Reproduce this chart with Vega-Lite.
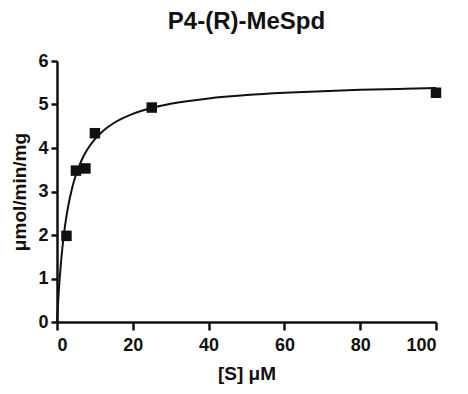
{
  "$schema": "https://vega.github.io/schema/vega-lite/v6.json",
  "width": 379,
  "height": 261,
  "autosize": {"type": "none"},
  "padding": {"left": 57, "top": 61, "right": 32, "bottom": 72},
  "background": "white",
  "title": {
    "text": "P4-(R)-MeSpd",
    "font": "Liberation Sans",
    "fontSize": 24,
    "fontWeight": "bold",
    "color": "#111111",
    "anchor": "middle",
    "offset": 18
  },
  "config": {
    "view": {"stroke": null},
    "axis": {
      "domainColor": "#111111",
      "domainWidth": 2.5,
      "tickColor": "#111111",
      "tickWidth": 2.5,
      "grid": false,
      "labelFont": "Liberation Sans",
      "labelFontWeight": "bold",
      "labelFontSize": 18,
      "labelColor": "#111111",
      "titleFont": "Liberation Sans",
      "titleFontWeight": "bold",
      "titleFontSize": 19,
      "titleColor": "#111111"
    }
  },
  "datasets": {
    "points": [
      {"s": 2.5, "v": 1.98},
      {"s": 5, "v": 3.48},
      {"s": 7.5, "v": 3.53},
      {"s": 10, "v": 4.34},
      {"s": 25, "v": 4.93},
      {"s": 100, "v": 5.27}
    ],
    "curve": [
      {"s": 0, "v": 0},
      {"s": 0.5, "v": 0.75},
      {"s": 1, "v": 1.32},
      {"s": 1.5, "v": 1.77},
      {"s": 2, "v": 2.135},
      {"s": 2.5, "v": 2.434},
      {"s": 3, "v": 2.685},
      {"s": 4, "v": 3.083},
      {"s": 5, "v": 3.384},
      {"s": 6, "v": 3.62},
      {"s": 7, "v": 3.809},
      {"s": 8, "v": 3.964},
      {"s": 10, "v": 4.205},
      {"s": 12, "v": 4.382},
      {"s": 15, "v": 4.574},
      {"s": 20, "v": 4.784},
      {"s": 25, "v": 4.92},
      {"s": 30, "v": 5.015},
      {"s": 40, "v": 5.139},
      {"s": 50, "v": 5.216},
      {"s": 60, "v": 5.269},
      {"s": 70, "v": 5.307},
      {"s": 80, "v": 5.337},
      {"s": 90, "v": 5.359},
      {"s": 100, "v": 5.378}
    ]
  },
  "layer": [
    {
      "data": {"name": "curve"},
      "mark": {"type": "line", "color": "#111111", "strokeWidth": 2, "interpolate": "monotone", "clip": false},
      "encoding": {
        "x": {
          "field": "s", "type": "quantitative",
          "scale": {"domain": [0, 100], "nice": false, "zero": true},
          "axis": {"values": [0, 20, 40, 60, 80, 100], "tickSize": 8, "labelPadding": 6, "title": "[S] μM", "titlePadding": 10}
        },
        "y": {
          "field": "v", "type": "quantitative",
          "scale": {"domain": [0, 6], "nice": false},
          "axis": {"values": [0, 1, 2, 3, 4, 5, 6], "tickSize": 6, "labelPadding": 3, "title": "μmol/min/mg", "titlePadding": 8}
        }
      }
    },
    {
      "data": {"name": "points"},
      "mark": {"type": "point", "shape": "square", "filled": true, "size": 110, "color": "#111111", "opacity": 1},
      "encoding": {
        "x": {"field": "s", "type": "quantitative"},
        "y": {"field": "v", "type": "quantitative"}
      }
    }
  ]
}
